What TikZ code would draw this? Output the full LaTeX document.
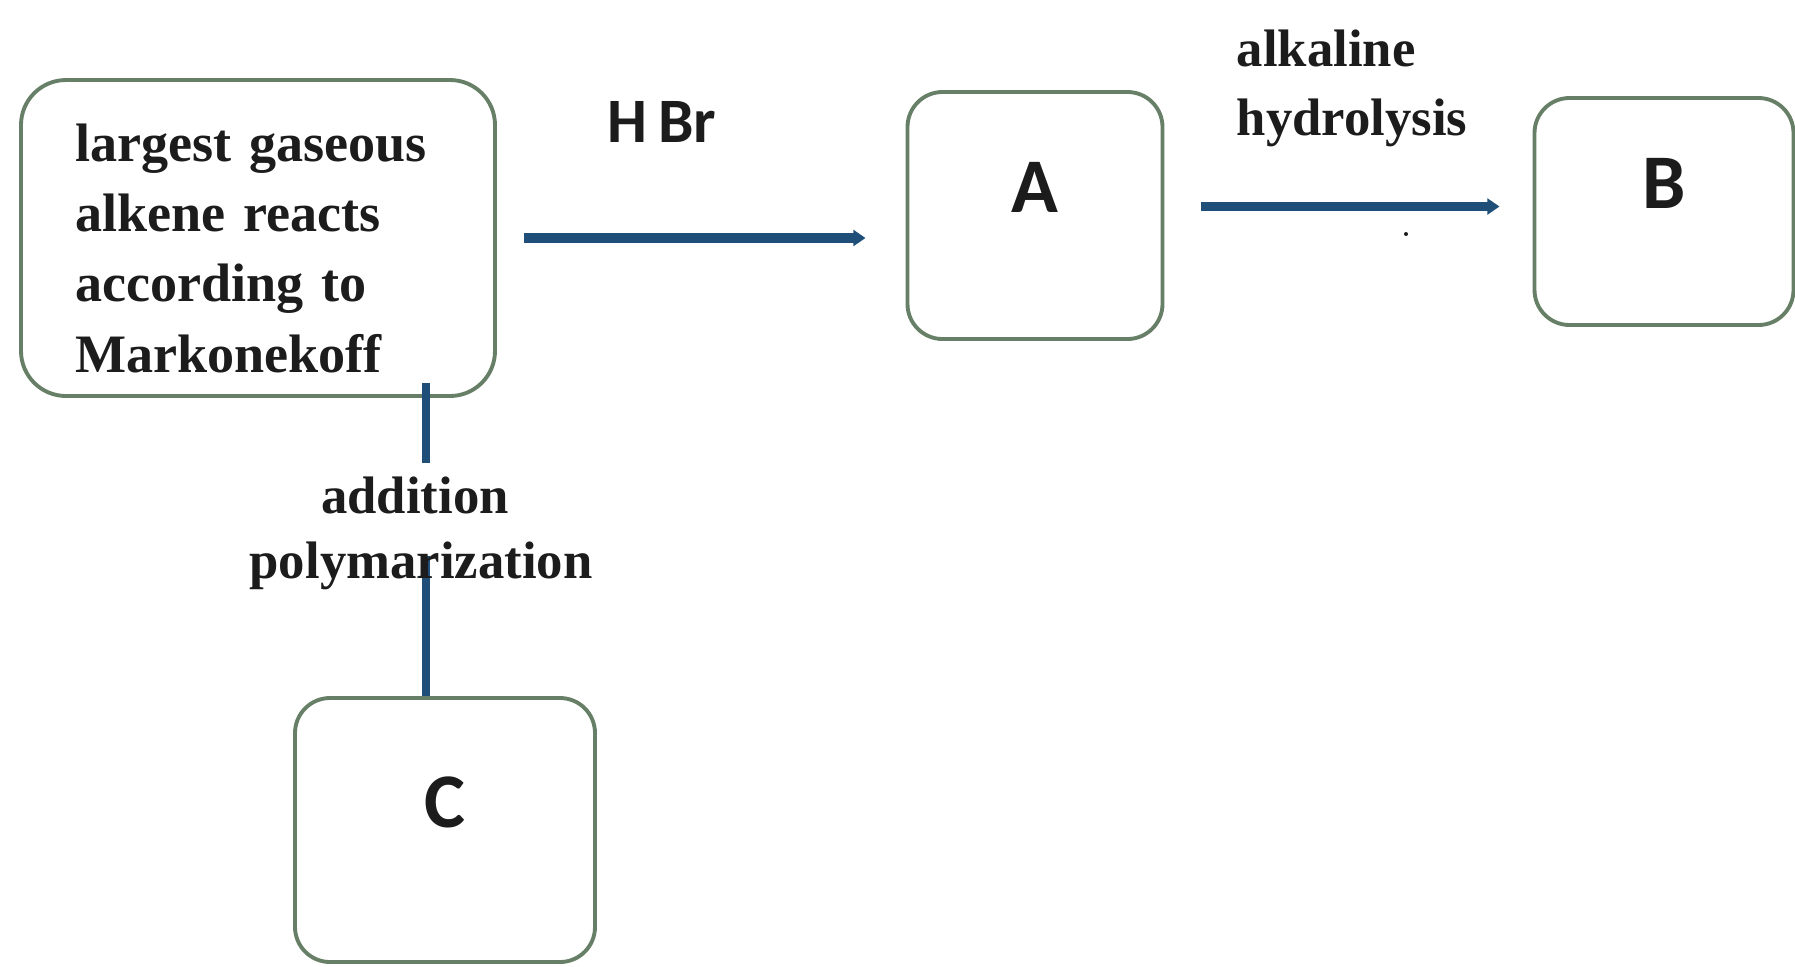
\documentclass[tikz,border=0pt]{standalone}
\usepackage{fontspec}
\setmainfont{Liberation Serif}
\newfontfamily\letterfont{Carlito}
\usepackage{xcolor}
\definecolor{boxedge}{HTML}{667F66}
\definecolor{flow}{HTML}{1F4E79}
\definecolor{ink}{HTML}{1C1C1C}
\usetikzlibrary{arrows.meta, positioning, calc}

\begin{document}
\begin{tikzpicture}[
  font=\bfseries,
  text=ink,
  box/.style={
    draw=boxedge, fill=white, line width=1.1pt, rounded corners=4.5mm,
    inner sep=0pt
  },
  letter/.style={box, rounded corners=3.5mm, text depth=5.6mm,
    font=\letterfont\bfseries\fontsize{22}{22}\selectfont},
  cond/.style={font=\bfseries\fontsize{15}{19.6}\selectfont, align=left, inner sep=0pt},
  arr/.style={-{Triangle[length=3.5pt, width=4.5pt]}, flow, line width=2.4pt},
  link/.style={flow, line width=2.3pt}
]
  \useasboundingbox (0,0) rectangle (17.95,-9.66);

  \node[box, minimum width=4.74cm, minimum height=3.16cm, text width=3.66cm, align=left,
    font=\bfseries\fontsize{15.4}{20}\selectfont] (main) at (2.58,-2.38)
    {\rule{0pt}{16.5pt}largest gaseous\\alkene reacts\\according to\\Markonekoff};
  \node[letter, minimum width=2.55cm, minimum height=2.47cm] (A) at (10.35,-2.155) {A};
  \node[letter, minimum width=2.59cm, minimum height=2.27cm] (B) at (16.64,-2.115) {B};
  \node[letter, minimum width=3.0cm, minimum height=2.64cm] (C) at (4.45,-8.3) {C};

  % reagents over the arrows
  \node[font=\letterfont\bfseries\fontsize{18}{18}\selectfont] (hbr) at (6.62,-1.22) {H\,Br};
  \node[cond] (alk) at (13.52,-0.88) {alkaline\\hydrolysis};

  \draw[arr, line width=3pt] ([xshift=2.7mm]main.east) -- ([xshift=-4mm]main.east -| A.west);
  \draw[arr] ([xshift=3.7mm,yshift=0.9mm]A.east) -- ([xshift=-3.3mm,yshift=0.9mm]A.east -| B.west);
  \fill[ink] (14.06,-2.34) circle (0.02);

  \draw[link] ([xshift=-1.9mm,yshift=1.5mm]C.north |- main.south) -- ([xshift=-1.9mm]C.north);
  \node[cond, anchor=base, fill=white, text depth=3mm, inner ysep=1.3mm] (add) at (4.15,-5.13) {addition};
  \node[cond, anchor=base] (poly) at (4.21,-5.78) {polymarization};
\end{tikzpicture}
\end{document}
